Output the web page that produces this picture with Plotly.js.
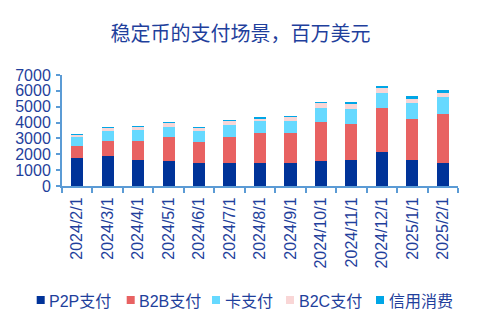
<!DOCTYPE html>
<html>
<head>
<meta charset="utf-8">
<script src="https://cdn.plot.ly/plotly-3.0.1.min.js"></script>
<style>html,body{margin:0;padding:0;background:#fff;}#chart{width:481px;height:327px;}</style>
</head>
<body>
<div id="chart"></div>
<script>
var categories = ["2024/2/1","2024/3/1","2024/4/1","2024/5/1","2024/6/1","2024/7/1","2024/8/1","2024/9/1","2024/10/1","2024/11/1","2024/12/1","2025/1/1","2025/2/1"];
var seriesNames = ["P2P支付","B2B支付","卡支付","B2C支付","信用消费"];
var p2p    = [1780,1910,1655,1590,1465,1465,1465,1465,1590,1655,2165,1655,1465];
var b2b    = [ 770, 955,1210,1530,1340,1655,1850,1850,2420,2230,2740,2550,3055];
var card   = [ 570, 575, 640, 575, 635, 700, 765, 765, 890, 955, 955,1020,1085];
var b2c    = [ 110, 190, 190, 255, 190, 255, 170, 255, 320, 320, 320, 255, 255];
var credit = [  80,  65,  65,  65,  65,  65,  85,  65,  65, 130, 130, 190, 190];
var yTicks = [0,1000,2000,3000,4000,5000,6000,7000];
var titleText = "稳定币的支付场景，百万美元";

var colors = ["#003399","#E86262","#66D9FF","#F9D6D6","#00A6E6"];
var seriesValues = [p2p,b2b,card,b2c,credit];
var textColor = "#1F3F9C";
var axisColor = "#5B9BD5";
var latinFont = "Liberation Sans, Arial, Noto Sans CJK SC, sans-serif";
var cjkFont = "Noto Sans CJK SC, Liberation Sans, sans-serif";

var W = 481, H = 327, mL = 62, mR = 23, mT = 75, mB = 141;
var plotW = W - mL - mR, plotH = H - mT - mB;
function px2x(px){ return (px - mL) / plotW; }
function px2y(py){ return (H - mB - py) / plotH; }

var traces = seriesNames.map(function(name, i){
  return {
    type: "bar",
    name: name,
    x: categories,
    y: seriesValues[i],
    marker: {color: colors[i], line: {width: 0}},
    showlegend: false,
    hoverinfo: "x+y+name"
  };
});

// custom legend (squares + labels)
var legendX = [36.7, 126.7, 212, 286, 376];
var legendY = 300;
var shapes = [], annotations = [];
seriesNames.forEach(function(name, i){
  shapes.push({
    type: "rect", xref: "paper", yref: "paper",
    x0: px2x(legendX[i]), x1: px2x(legendX[i] + 8),
    y0: px2y(legendY + 4), y1: px2y(legendY - 4),
    fillcolor: colors[i], line: {width: 0}
  });
  annotations.push({
    xref: "paper", yref: "paper",
    x: px2x(legendX[i] + 10.5), y: px2y(legendY + 1),
    xanchor: "left", yanchor: "middle",
    text: name, showarrow: false,
    font: {family: latinFont, size: 16, color: textColor}
  });
});

var layout = {
  width: W, height: H,
  margin: {l: mL, r: mR, t: mT, b: mB, pad: 0},
  paper_bgcolor: "#fff", plot_bgcolor: "#fff",
  barmode: "stack",
  bargap: 0.6,
  showlegend: false,
  title: {
    text: titleText,
    font: {family: cjkFont, size: 20, color: textColor},
    x: 0.5, xref: "container", xanchor: "center",
    y: 1 - 34/327, yref: "container", yanchor: "middle"
  },
  xaxis: {
    type: "category",
    tickangle: -90,
    tickson: "boundaries",
    ticks: "outside", ticklen: 5, tickwidth: 2, tickcolor: axisColor,
    ticklabelstandoff: 3,
    showline: true, linecolor: axisColor, linewidth: 2,
    showgrid: false, zeroline: false,
    tickfont: {family: latinFont, size: 16, color: textColor},
    automargin: false
  },
  yaxis: {
    range: [0, 7000],
    tickvals: yTicks,
    ticktext: yTicks.map(String),
    ticks: "outside", ticklen: 4, tickwidth: 2, tickcolor: axisColor,
    ticklabelstandoff: 2,
    showline: true, linecolor: axisColor, linewidth: 2,
    showgrid: false, zeroline: false,
    tickfont: {family: latinFont, size: 16, color: textColor},
    automargin: false
  },
  shapes: shapes,
  annotations: annotations
};

Plotly.newPlot("chart", traces, layout, {displayModeBar: false, staticPlot: true});
</script>
</body>
</html>
